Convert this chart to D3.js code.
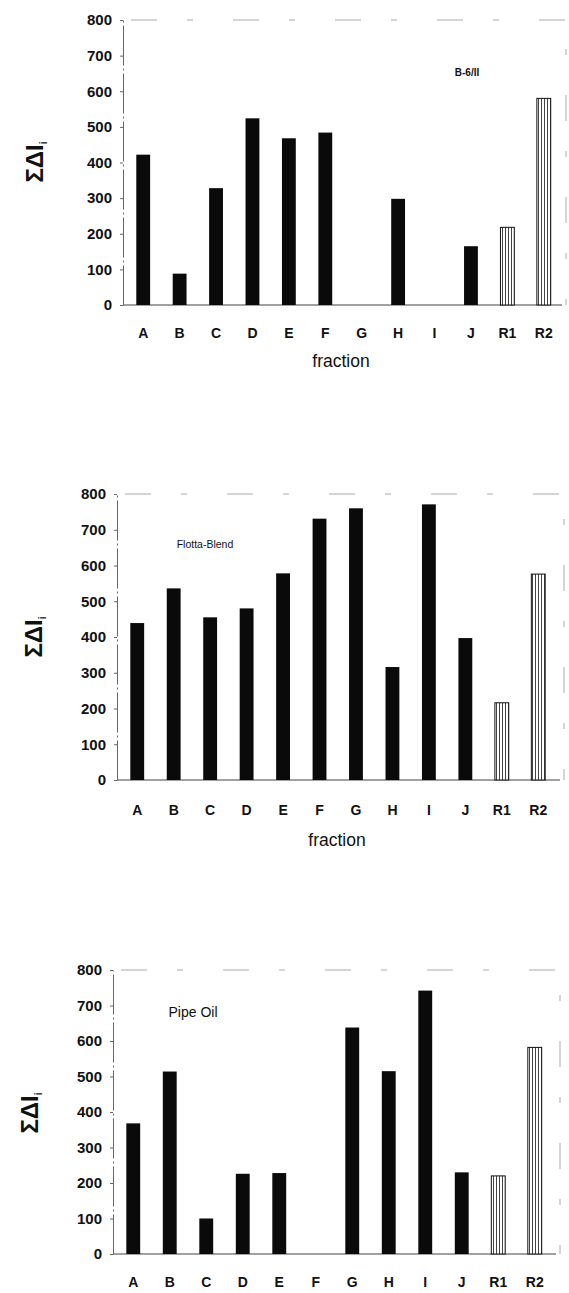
<!DOCTYPE html>
<meta charset="utf-8">
<style>
body { margin: 0; background: #fff; }
svg { display: block; font-family: Arial, "Liberation Sans", sans-serif; }
.tick text { fill: #111; }
.yaxis .tick text { font-size: 15px; font-weight: bold; }
.xaxis .tick text { font-size: 14px; font-weight: bold; }
.yaxis .domain { stroke: #666; stroke-dasharray: 40,3,2,3; }
.yaxis .tick line { stroke: #666; }
.frame { fill: none; stroke: #aaa; stroke-width: 1; stroke-dasharray: 26,30,6,40; }
.baseline { stroke: #444; stroke-width: 1; }
</style>
<script src="https://d3js.org/d3.v7.min.js"></script>
<svg id="chart" width="569" height="1293"></svg>
<script>

var categories = ["A", "B", "C", "D", "E", "F", "G", "H", "I", "J", "R1", "R2"];
var referenceCats = ["R1", "R2"];
var yTicks = [0, 100, 200, 300, 400, 500, 600, 700, 800];

var b6Values     = [422, 88, 328, 524, 468, 484, 0, 298, 0, 165, 218, 580];
var flottaValues = [439, 536, 455, 480, 578, 731, 760, 316, 771, 397, 216, 576];
var pipeValues   = [368, 514, 100, 226, 228, 0, 638, 515, 742, 230, 220, 582];

var panelTitles = ["B-6/II", "Flotta-Blend", "Pipe Oil"];
var panelSeries = [b6Values, flottaValues, pipeValues];

// layout of each panel (pixels)
var layout = [
  { axisX: 123, y0: 305, y800: 20, xr: [125, 562], right: 566, tickY: 328, fracY: 367, fracX: 341,
    labX: 43, labY: 162, title: { x: 467, y: 76, size: 10, weight: "bold" } },
  { axisX: 117, y0: 780, y800: 494, xr: [119, 556.5], right: 564, tickY: 805, fracY: 846, fracX: 337,
    labX: 42, labY: 637, title: { x: 205, y: 548, size: 10.5, weight: "normal" } },
  { axisX: 113, y0: 1254, y800: 970, xr: [115, 553], right: 560, tickY: 1277, fracY: null, fracX: null,
    labX: 38, labY: 1113, title: { x: 193, y: 1017, size: 14, weight: "normal" } }
];

var svg = d3.select("#chart");

var defs = svg.append("defs");
var pat = defs.append("pattern")
    .attr("id", "hatch")
    .attr("patternUnits", "userSpaceOnUse")
    .attr("width", 3)
    .attr("height", 6);
pat.append("rect").attr("width", 3).attr("height", 6).attr("fill", "#fff");
pat.append("line")
    .attr("x1", 1.5).attr("x2", 1.5).attr("y1", 0).attr("y2", 6)
    .attr("stroke", "#444").attr("stroke-width", 1);

panelSeries.forEach(function(values, p) {
  var L = layout[p];
  var g = svg.append("g");

  var x = d3.scaleBand()
      .domain(categories)
      .range(L.xr)
      .paddingInner(0.62)
      .paddingOuter(0.31);

  var y = d3.scaleLinear()
      .domain([0, 800])
      .range([L.y0, L.y800]);

  // faint plot area frame (top and right)
  g.append("path")
      .attr("class", "frame")
      .attr("d", "M" + (L.axisX + 8) + "," + y(800) + "H" + L.right + "V" + y(0));

  // baseline
  g.append("line")
      .attr("class", "baseline")
      .attr("x1", L.axisX).attr("x2", L.right - 4)
      .attr("y1", y(0)).attr("y2", y(0));

  // y axis
  g.append("g")
      .attr("class", "yaxis")
      .attr("transform", "translate(" + L.axisX + ",0)")
      .call(d3.axisLeft(y).tickValues(yTicks).tickSize(3).tickSizeOuter(0).tickPadding(8));

  // bars
  g.selectAll("rect.bar")
    .data(values.map(function(v, i) { return { cat: categories[i], v: v }; }))
    .enter().append("rect")
      .attr("class", "bar")
      .attr("x", function(d) { return x(d.cat); })
      .attr("width", x.bandwidth())
      .attr("y", function(d) { return y(d.v); })
      .attr("height", function(d) { return y(0) - y(d.v); })
      .attr("fill", function(d) { return referenceCats.indexOf(d.cat) >= 0 ? "url(#hatch)" : "#0a0a0a"; })
      .attr("stroke", function(d) { return referenceCats.indexOf(d.cat) >= 0 ? "#111" : "none"; })
      .attr("stroke-width", 1);

  // x labels
  g.append("g")
      .attr("class", "xaxis")
      .attr("transform", "translate(0," + L.tickY + ")")
      .call(d3.axisBottom(x).tickSize(0).tickPadding(0))
      .select(".domain").remove();

  if (L.fracY !== null) {
    g.append("text")
        .attr("x", L.fracX)
        .attr("y", L.fracY)
        .attr("text-anchor", "middle")
        .attr("font-size", 17.5)
        .attr("fill", "#111")
        .text("fraction");
  }

  // y label: ΣΔI with subscript i
  var lab = g.append("text")
      .attr("transform", "translate(" + L.labX + "," + L.labY + ") rotate(-90)")
      .attr("text-anchor", "middle")
      .attr("font-size", 24)
      .attr("font-weight", "bold")
      .attr("fill", "#111");
  lab.append("tspan").text("ΣΔI");
  lab.append("tspan").attr("font-size", 10).attr("dy", 4).text("i");

  // panel title
  g.append("text")
      .attr("x", L.title.x)
      .attr("y", L.title.y)
      .attr("text-anchor", "middle")
      .attr("font-size", L.title.size)
      .attr("font-weight", L.title.weight)
      .attr("fill", "#111")
      .text(panelTitles[p]);
});

</script>
